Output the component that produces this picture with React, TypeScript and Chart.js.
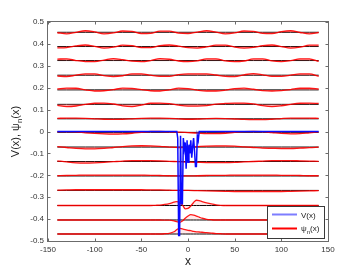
import React, { useEffect, useRef } from "react";
import { Chart, registerables } from "chart.js";

Chart.register(...registerables);

const FONT = "'Liberation Sans', Arial, Helvetica, sans-serif";

const X_TICKS = [-150, -100, -50, 0, 50, 100, 150];
const Y_TICKS = [-0.5, -0.4, -0.3, -0.2, -0.1, 0, 0.1, 0.2, 0.3, 0.4, 0.5];

// x grid for the extended states
const X_GRID = [-140, -130, -120, -110, -100, -90, -80, -70, -60, -50, -40, -30, -20, -10, 0,
  10, 20, 30, 40, 50, 60, 70, 80, 90, 100, 110, 120, 130, 140];
// x grid for the localized states
const XL_GRID = [-140, -40, -35, -30, -25, -20, -15, -12, -9, -6, -3, 0, 3, 6, 9, 12, 15, 20, 25, 30, 35, 40, 140];

// level offsets (top to bottom)
const LEVELS = [0.453, 0.388, 0.324, 0.257, 0.19, 0.124, 0.058, -0.004, -0.071, -0.137, -0.203, -0.269, -0.338, -0.404, -0.468];

const PSI_1 = [-0.002, -0.007, 0.0, 0.007, 0.002, -0.007, -0.003, 0.006, 0.004, -0.006, -0.0045, 0.005, 0.005, -0.004, -0.006,
  0.001, 0.007, 0.001, -0.007, -0.003, 0.006, 0.0045, -0.0045, -0.006, 0.003, 0.007, -0.001, -0.007, -0.001];
const PSI_2 = [-0.006, -0.005, 0.0025, 0.007, 0.001, -0.007, -0.003, 0.006, 0.0045, -0.005, -0.005, 0.0045, 0.007, 0.002, -0.005,
  -0.007, -0.0015, 0.006, 0.0065, -0.0025, -0.007, -0.004, 0.004, 0.007, 0.0, -0.007, -0.003, 0.006, 0.006];
const PSI_3 = [0.0065, 0.008, 0.0, -0.0045, -0.0045, 0.002, 0.009, 0.004, -0.003, -0.005, 0.0, 0.0085, 0.006, -0.002, -0.005,
  -0.0015, 0.008, 0.008, -0.002, -0.005, -0.002, 0.0075, 0.008, -0.002, -0.005, 0.0, 0.008, 0.008, -0.004];
const PSI_4 = [-0.004, -0.006, 0.0, 0.006, 0.006, -0.0015, -0.006, -0.0025, 0.006, 0.0065, 0.0, -0.005, -0.005, 0.003, 0.006,
  0.006, 0.006, 0.001, -0.005, -0.006, 0.002, 0.007, 0.002, -0.005, -0.005, 0.0, 0.006, 0.006, -0.005];
const PSI_5 = [0.005, 0.008, 0.0075, 0.0, -0.005, -0.004, 0.001, 0.008, 0.007, 0.001, -0.004, -0.005, 0.0, 0.008, 0.006,
  -0.001, -0.005, -0.005, -0.001, 0.006, 0.008, 0.003, -0.003, -0.005, -0.003, 0.0015, 0.0075, 0.0075, 0.004];
const PSI_6 = [-0.005, -0.01, -0.0075, 0.0, 0.005, 0.006, 0.0015, -0.007, -0.01, -0.003, 0.005, 0.006, 0.003, -0.004, -0.008,
  -0.008, -0.006, 0.001, 0.004, 0.006, 0.006, 0.002, -0.006, -0.01, -0.0065, 0.0, 0.005, 0.006, 0.004];
const PSI_7 = [0.002, 0.003, 0.003, 0.002, 0.0, -0.002, -0.003, -0.002, 0.0, 0.002, 0.003, 0.003, 0.002, 0.0, -0.002,
  -0.001, 0.001, 0.002, 0.001, -0.001, -0.003, -0.004, -0.004, -0.002, 0.001, 0.003, 0.003, 0.003, 0.002];
const PSI_8 = [0.003, 0.003, 0.002, -0.002, -0.005, -0.007, -0.008, -0.007, -0.004, 0.0, 0.004, 0.004, 0.002, 0.001, -0.001,
  -0.003, -0.006, -0.006, -0.004, 0.0, 0.003, 0.004, 0.003, -0.001, -0.005, -0.007, -0.006, -0.002, 0.002];
const PSI_9 = [0.002, -0.002, -0.006, -0.008, -0.008, -0.006, -0.002, 0.002, 0.005, 0.006, 0.005, 0.003, 0.0, -0.002, 0.0,
  0.002, 0.004, 0.005, 0.005, 0.004, 0.001, -0.002, -0.005, -0.006, -0.007, -0.007, -0.005, -0.003, 0.0];
const PSI_10 = [0.003, -0.002, -0.006, -0.007, -0.006, -0.004, -0.001, 0.002, 0.004, 0.004, 0.004, 0.003, 0.001, -0.001, -0.003,
  -0.004, -0.005, -0.005, -0.005, -0.004, -0.002, 0.0, 0.002, 0.004, 0.004, 0.004, 0.003, 0.002, 0.001];
const PSI_11 = [0.001, 0.002, 0.003, 0.004, 0.004, 0.004, 0.004, 0.004, 0.004, 0.0035, 0.003, 0.002, 0.001, 0.0005, 0.0,
  0.001, 0.002, 0.003, 0.003, 0.004, 0.004, 0.004, 0.004, 0.004, 0.003, 0.003, 0.002, 0.001, 0.001];
const PSI_12 = [0.001, 0.002, 0.003, 0.003, 0.003, 0.003, 0.003, 0.003, 0.003, 0.003, 0.002, 0.002, 0.001, 0.0, 0.0,
  -0.001, -0.002, -0.003, -0.004, -0.005, -0.005, -0.005, -0.005, -0.005, -0.005, -0.004, -0.003, -0.002, -0.001];
const PSI_13 = [0, 0, 0.001, 0.002, 0.005, 0.009, 0.015, 0.018, 0.014, 0.003, -0.015, -0.013, -0.002, 0.014, 0.024, 0.022,
  0.018, 0.012, 0.007, 0.003, 0.001, 0, 0];
const PSI_14 = [0, 0, 0, 0, -0.001, -0.001, -0.004, -0.008, -0.011, -0.005, 0.008, 0.018, 0.024, 0.022, 0.018, 0.013,
  0.008, 0.003, 0.001, 0, 0, 0, 0];
const PSI_15 = [0, 0, 0, 0, 0.001, 0.003, 0.01, 0.02, 0.026, 0.023, 0.02, 0.017, 0.015, 0.012, 0.01, 0.009,
  0.008, 0.006, 0.004, 0.002, 0.001, 0, 0];

// potential V(x)
const V_X = [-140, -12, -11, -10, -9, -8, -7, -6, -5, -4, -3, -2, -1, 0, 1, 2, 3, 4, 5, 6, 7, 8, 9, 10, 11, 12, 140];
const V_Y = [0, 0, -0.03, -0.475, -0.475, -0.02, -0.33, -0.33, -0.03, -0.08, -0.05, -0.17, -0.04, -0.14, -0.06, -0.1,
  -0.04, -0.12, -0.07, -0.03, -0.09, -0.16, -0.16, -0.02, -0.04, 0, 0];

const LEGEND_LABELS = ["V(x)", "ψ", "n", "(x)"];
const AXIS_X_TITLE = "x";
const AXIS_Y_TITLE = ["V(x), ψ", "n", "(x)"];

const fmtY = (v: number) => {
  const r = Math.round(v * 10) / 10;
  return r === 0 ? "0" : String(r);
};

const decor = {
  id: "decor",
  afterDatasetsDraw(chart: any) {
    const { ctx, chartArea } = chart;
    const xs = chart.scales.x;
    const ys = chart.scales.y;
    const L = Math.round(chartArea.left) - 0.5;
    const R = Math.round(chartArea.right) + 0.5;
    const T = Math.round(chartArea.top) - 0.5;
    const B = Math.round(chartArea.bottom) + 0.5;
    ctx.save();
    ctx.strokeStyle = "#6b6b6b";
    ctx.lineWidth = 1;
    ctx.strokeRect(L, T, R - L, B - T);
    ctx.beginPath();
    X_TICKS.forEach((v) => {
      const p = Math.round(xs.getPixelForValue(v)) + 0.5;
      ctx.moveTo(p, B);
      ctx.lineTo(p, B - 3);
      ctx.moveTo(p, T);
      ctx.lineTo(p, T + 3);
    });
    Y_TICKS.forEach((v) => {
      const p = Math.round(ys.getPixelForValue(v)) + 0.5;
      ctx.moveTo(L, p);
      ctx.lineTo(L + 3, p);
      ctx.moveTo(R, p);
      ctx.lineTo(R - 3, p);
    });
    ctx.stroke();
    ctx.restore();
  },
  afterDraw(chart: any) {
    const { ctx, chartArea } = chart;
    ctx.save();
    // x title
    ctx.fillStyle = "#222";
    ctx.font = `12px ${FONT}`;
    ctx.textAlign = "center";
    ctx.textBaseline = "alphabetic";
    ctx.fillText(AXIS_X_TITLE, (chartArea.left + chartArea.right) / 2, 265);
    // y title (rotated, with subscript)
    ctx.save();
    ctx.translate(19, (chartArea.top + chartArea.bottom) / 2);
    ctx.rotate(-Math.PI / 2);
    ctx.textAlign = "left";
    const big = `11px ${FONT}`;
    const small = `8px ${FONT}`;
    ctx.font = big;
    const w1 = ctx.measureText(AXIS_Y_TITLE[0]).width;
    const w3 = ctx.measureText(AXIS_Y_TITLE[2]).width;
    ctx.font = small;
    const w2 = ctx.measureText(AXIS_Y_TITLE[1]).width;
    let x0 = -(w1 + w2 + w3) / 2;
    ctx.font = big;
    ctx.fillText(AXIS_Y_TITLE[0], x0, 0);
    ctx.font = small;
    ctx.fillText(AXIS_Y_TITLE[1], x0 + w1, 3);
    ctx.font = big;
    ctx.fillText(AXIS_Y_TITLE[2], x0 + w1 + w2, 0);
    ctx.restore();

    // legend
    const bx = 267.5, by = 206.5, bw = 57, bh = 32;
    ctx.fillStyle = "#ffffff";
    ctx.fillRect(bx, by, bw, bh);
    ctx.strokeStyle = "#3a3a3a";
    ctx.lineWidth = 1;
    ctx.strokeRect(bx, by, bw, bh);
    ctx.lineWidth = 2;
    ctx.strokeStyle = "#7d7dff";
    ctx.beginPath();
    ctx.moveTo(272, 214.5);
    ctx.lineTo(297, 214.5);
    ctx.stroke();
    ctx.strokeStyle = "#ff0000";
    ctx.beginPath();
    ctx.moveTo(272, 228.5);
    ctx.lineTo(297, 228.5);
    ctx.stroke();
    ctx.fillStyle = "#222";
    ctx.textAlign = "left";
    ctx.textBaseline = "alphabetic";
    const lf = `8px ${FONT}`;
    const ls = `6px ${FONT}`;
    ctx.font = lf;
    ctx.fillText(LEGEND_LABELS[0], 301, 217.5);
    const wp = ctx.measureText(LEGEND_LABELS[1]).width;
    ctx.fillText(LEGEND_LABELS[1], 301, 231);
    ctx.font = ls;
    const wn = ctx.measureText(LEGEND_LABELS[2]).width;
    ctx.fillText(LEGEND_LABELS[2], 301 + wp, 233.5);
    ctx.font = lf;
    ctx.fillText(LEGEND_LABELS[3], 301 + wp + wn, 231);
    ctx.restore();
  },
};

export default function App() {
  const ref = useRef<HTMLCanvasElement>(null);
  useEffect(() => {
    document.body.style.margin = "0";
    const canvas = ref.current;
    if (!canvas) return;
    const waves = [PSI_1, PSI_2, PSI_3, PSI_4, PSI_5, PSI_6, PSI_7, PSI_8, PSI_9, PSI_10, PSI_11, PSI_12, PSI_13, PSI_14, PSI_15];
    const grids = waves.map((_, n) => (n >= 12 ? XL_GRID : X_GRID));
    const nW = waves.length;
    const datasets: any[] = [];
    datasets.push({
      label: "V(x)",
      data: V_X.map((x, i) => ({ x, y: V_Y[i] })),
      borderColor: "#0a0aff",
      borderWidth: 1.5,
      pointRadius: 0,
      fill: false,
      tension: 0,
    });
    waves.forEach((psi, n) => {
      const g = grids[n];
      const localized = n >= 12;
      datasets.push({
        label: `psi${n}`,
        data: g.map((x, i) => ({ x, y: LEVELS[n] + psi[i] })),
        borderColor: "rgba(255,0,0,0.9)",
        backgroundColor: localized ? "rgba(255,80,80,0.12)" : "rgba(255,80,80,0.45)",
        borderWidth: 1.3,
        pointRadius: 0,
        cubicInterpolationMode: "monotone",
        fill: 1 + nW + n,
      });
    });
    waves.forEach((_, n) => {
      const g = grids[n];
      datasets.push({
        label: `E${n}`,
        data: g.map((x) => ({ x, y: LEVELS[n] })),
        borderColor: "#000000",
        borderWidth: 1,
        pointRadius: 0,
        fill: false,
      });
    });

    const chart = new Chart(canvas, {
      type: "line",
      data: { datasets },
      plugins: [decor],
      options: {
        responsive: false,
        animation: false,
        events: [],
        layout: { padding: { top: 22, right: 35, left: 0, bottom: 0 } },
        plugins: { legend: { display: false }, tooltip: { enabled: false }, title: { display: false } },
        scales: {
          x: {
            type: "linear",
            min: -150,
            max: 150,
            afterBuildTicks: (s: any) => {
              s.ticks = X_TICKS.map((value) => ({ value }));
            },
            afterFit: (s: any) => {
              s.height = 31;
            },
            grid: { display: false, drawTicks: false },
            border: { display: false },
            ticks: {
              autoSkip: false,
              maxRotation: 0,
              padding: 4,
              color: "#333",
              font: { family: FONT, size: 8 },
              callback: (v: any) => String(v),
            },
          },
          y: {
            type: "linear",
            min: -0.5,
            max: 0.5,
            afterBuildTicks: (s: any) => {
              s.ticks = Y_TICKS.map((value) => ({ value }));
            },
            afterFit: (s: any) => {
              s.width = 48;
            },
            grid: { display: false, drawTicks: false },
            border: { display: false },
            ticks: {
              autoSkip: false,
              padding: 4,
              color: "#333",
              font: { family: FONT, size: 8 },
              callback: (v: any) => fmtY(Number(v)),
            },
          },
        },
      },
    });
    return () => chart.destroy();
  }, []);
  return <canvas ref={ref} width={363} height={272} style={{ display: "block", width: 363, height: 272 }} />;
}
